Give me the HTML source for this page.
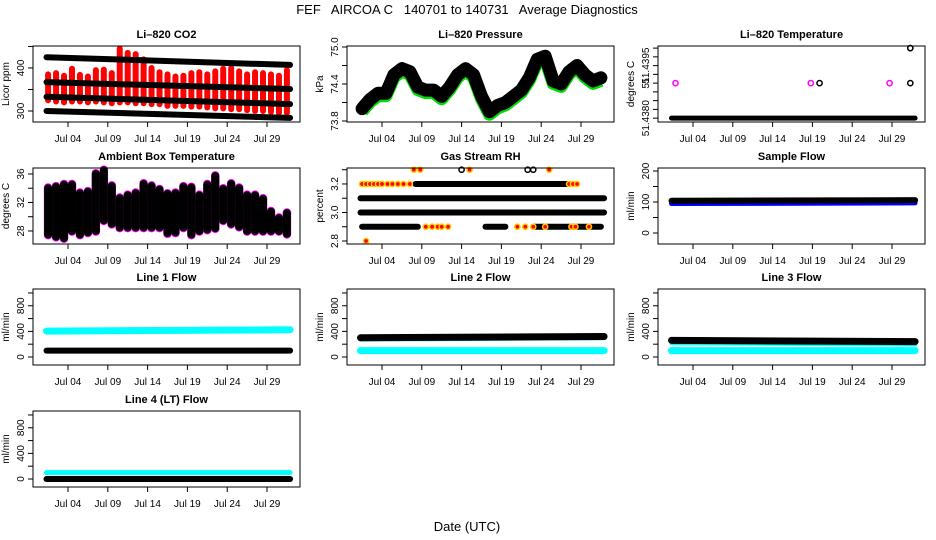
<!DOCTYPE html>
<html><head><meta charset="utf-8"><style>
body{margin:0;background:#fff;}
svg{display:block;font-family:"Liberation Sans",sans-serif;}
</style></head><body>
<svg id="chart" width="936" height="540" viewBox="0 0 936 540" xmlns="http://www.w3.org/2000/svg">
<rect width="936" height="540" fill="#fff"/>
<text x="467" y="14" text-anchor="middle" font-size="13" style="white-space:pre">FEF   AIRCOA C   140701 to 140731   Average Diagnostics</text>
<text x="467" y="531" text-anchor="middle" font-size="13">Date (UTC)</text>
</svg>
<script>
const xTickDays=[4,9,14,19,24,29];
const xTickLabels=["Jul 04","Jul 09","Jul 14","Jul 19","Jul 24","Jul 29"];
// CO2
const co2BandStart=[425,367,333,300];
const co2BandEnd=[407,351,316,284];
const co2Max=[385,388,382,398,384,380,395,396,388,445,435,432,420,400,390,385,380,382,388,390,385,392,398,400,392,385,390,388,385,382,395];
const co2Min=[325,322,320,322,322,320,322,320,318,320,320,318,318,316,316,312,312,312,310,310,308,306,306,304,304,302,300,300,298,296,296];
// Pressure
const pressure=[74.0,74.15,74.25,74.25,74.55,74.65,74.6,74.35,74.3,74.3,74.2,74.35,74.55,74.65,74.55,74.2,73.95,74.05,74.1,74.2,74.3,74.5,74.8,74.85,74.45,74.4,74.6,74.7,74.55,74.45,74.5];
// Li-820 temperature
const tempBase=51.4380;
const tempMagDays=[1.8,18.8,28.7,31.3];
const tempMagVals=[51.4390,51.4390,51.4390,51.4400];
const tempBlkDays=[19.9,31.3,31.3];
const tempBlkVals=[51.4390,51.4390,51.4400];
// Ambient
const ambMax=[34,34.2,34.5,34.5,33.3,33.5,36,36.5,34.3,32.6,33,33.3,34.6,34.3,33.8,33.2,33.3,34.2,34.1,33,34.5,35.7,33.9,34.6,34,33,33,32.5,30.7,29.8,30.5];
const ambMin=[27.5,27.2,27,28,27.5,27.8,28,29.5,29,28.5,28.5,28.5,28.5,28.5,28.5,27.7,27.8,28.5,27.5,28,28.2,28.4,29.5,29,28.6,28,28,28,28,28,27.6];
// RH
const rhSegLevel=[3.0,3.1,3.2,2.9,2.9,2.9];
const rhSegStart=[1.3,1.3,8.2,1.5,17,23];
const rhSegEnd=[31.9,31.9,27.3,8.5,19.5,31.5];
const rhPtDays=[1.5,2,2.5,3,3.5,4,4.7,5.3,6,6.7,7.5,27.5,28,28.5,8,8.8,15,25,9.5,10.3,11,11.5,12.3,21,22,23,24.5,27.8,28.3,30,2.0];
const rhPtVals=[3.2,3.2,3.2,3.2,3.2,3.2,3.2,3.2,3.2,3.2,3.2,3.2,3.2,3.2,3.3,3.3,3.3,3.3,2.9,2.9,2.9,2.9,2.9,2.9,2.9,2.9,2.9,2.9,2.9,2.9,2.8];
const rhBlkDays=[14,22.3,23];
const rhBlkVals=[3.3,3.3,3.3];
// Flows: [start value, end value]
const sampleBlue=[95,97];
const sampleBlack=[104,106];
const line1Cyan=[405,425];
const line1Black=[100,100];
const line2CyanLow=[100,100];
const line2CyanHigh=[280,300];
const line2Black=[300,320];
const line3CyanLow=[100,100];
const line3CyanHigh=[215,195];
const line3Black=[260,240];
const line4Cyan=[100,100];
const line4Black=[0,0];

const NS="http://www.w3.org/2000/svg";
const svg=document.getElementById('chart');
function mk(tag,attrs,parent){const e=document.createElementNS(NS,tag);for(const k in attrs)e.setAttribute(k,attrs[k]);(parent||svg).appendChild(e);return e;}
const W=267,H=76;
function panel(name,title,L,T,ymin,ymax,ticks,labels,ytitle){
  const g=mk('g',{});
  
  
  const P={g,L,T,x:d=>L+35+(d-4)*7.96,y:v=>T+H-(v-ymin)/(ymax-ymin)*H};
  const t=mk('text',{x:L+W/2,y:T-8,'text-anchor':'middle','font-size':11,'font-weight':'bold'},g);
  t.textContent=title;
  
  
  const yt=mk('text',{transform:`translate(${L-24},${T+H/2}) rotate(-90)`,'text-anchor':'middle','font-size':10},g);
  yt.textContent=ytitle;
  
  
  ticks.forEach((v,i)=>{
    const yy=P.y(v);
    mk('line',{x1:L-5,x2:L,y1:yy,y2:yy,stroke:'#000'},g);
    if(labels[i]){const tl=mk('text',{transform:`translate(${L-9},${yy}) rotate(-90)`,'text-anchor':'middle','font-size':10},g);tl.textContent=labels[i];
      
      }
  });
  xTickDays.forEach((d,i)=>{
    const xx=P.x(d);
    mk('line',{x1:xx,x2:xx,y1:T+H,y2:T+H+5,stroke:'#000'},g);
    const tl=mk('text',{x:xx,y:T+H+20,'text-anchor':'middle','font-size':10},g);
    tl.textContent=xTickLabels[i];
    
    
  });
  P.marks=mk('g',{},g);
  
  
  const b=mk('rect',{x:L,y:T,width:W,height:H,fill:'none',stroke:'#000'},g);
  
  
  return P;
}
function band(P,se,color,w){
  const l=mk('line',{x1:P.x(1.3),x2:P.x(31.9),y1:P.y(se[0]),y2:P.y(se[1]),stroke:color,'stroke-width':w,'stroke-linecap':'round'},P.marks);
  
  
}
function dayBars(P,mins,maxs,color,w,pad){
  mins.forEach((m,i)=>{const d=i+1.5;
    const l=mk('line',{x1:P.x(d),x2:P.x(d),y1:P.y(m-pad),y2:P.y(maxs[i]+pad),stroke:color,'stroke-width':w,'stroke-linecap':'round'},P.marks);
    
    });
}
function circ(P,d,v,color,fill){
  const c=mk('circle',{cx:P.x(d),cy:P.y(v),r:2.6,fill:fill||'none',stroke:color,'stroke-width':1.5},P.marks);
  
  
  return c;
}
const C=[33,347,658], R=[46,168,289,411];
// CO2
let P=panel('co2','Li\u2013820 CO2',C[0],R[0],274.4,451,[300,350,400,450],['300','','400',''],'Licor ppm');
dayBars(P,co2Min,co2Max,'#ff0000',6,0);
co2BandStart.forEach((s,i)=>band(P,[s,co2BandEnd[i]],'#000',6));
// Pressure
P=panel('pressure','Li\u2013820 Pressure',C[1],R[0],73.784,75.016,[73.8,74.1,74.4,74.7,75.0],['73.8','','74.4','','75.0'],'kPa');
const pts=v=>pressure.map((p,i)=>P.x(i+1.5)+','+P.y(p+v)).join(' ');
let pl=mk('polyline',{points:pts(-0.04),fill:'none',stroke:'#00dd00','stroke-width':13,'stroke-linejoin':'round'},P.marks);

pl=mk('polyline',{points:pts(0),fill:'none',stroke:'#000','stroke-width':13,'stroke-linejoin':'round','stroke-linecap':'round'},P.marks);

// Temperature
P=panel('li820-temp','Li\u2013820 Temperature',C[2],R[0],51.43789,51.44006,[51.4380,51.43825,51.4385,51.43875,51.4390,51.43925,51.4395,51.43975,51.4400],['51.4380','','','','51','','51.4395','',''],'degrees C');
band(P,[tempBase,tempBase],'#000',5);
tempMagDays.forEach((d,i)=>circ(P,d,tempMagVals[i],'#ff00ff'));
tempBlkDays.forEach((d,i)=>circ(P,d,tempBlkVals[i],'#000'));
// Ambient
P=panel('ambient','Ambient Box Temperature',C[0],R[1],26.17,36.84,[28,30,32,34,36],['28','','32','','36'],'degrees C');
dayBars(P,ambMin,ambMax,'#ff00ff',8.5,0.1);
dayBars(P,ambMin,ambMax,'#000',8,0);
// RH
P=panel('rh','Gas Stream RH',C[1],R[1],2.779,3.312,[2.8,2.9,3.0,3.1,3.2,3.3],['2.8','','3.0','','3.2',''],'percent');
rhSegLevel.forEach((lv,i)=>{const l=mk('line',{x1:P.x(rhSegStart[i]),x2:P.x(rhSegEnd[i]),y1:P.y(lv),y2:P.y(lv),stroke:'#000','stroke-width':6,'stroke-linecap':'round'},P.marks);
  });
rhPtDays.forEach((d,i)=>{circ(P,d,rhPtVals[i],'#ffcc00','#ff0000');});
rhBlkDays.forEach((d,i)=>circ(P,d,rhBlkVals[i],'#000'));
// Sample flow
P=panel('sample-flow','Sample Flow',C[2],R[1],-35.5,209.7,[0,50,100,150,200],['0','','100','','200'],'ml/min');
band(P,sampleBlue,'#0000ff',5);
band(P,sampleBlack,'#000',6);
// Line flows
const ft=[0,200,400,600,800,1000], fl=['0','','400','','800',''];
P=panel('line1-flow','Line 1 Flow',C[0],R[2],-125,1062,ft,fl,'ml/min');
band(P,line1Cyan,'#00ffff',7);band(P,line1Black,'#000',6);
P=panel('line2-flow','Line 2 Flow',C[1],R[2],-125,1062,ft,fl,'ml/min');
band(P,line2CyanLow,'#00ffff',7);band(P,line2CyanHigh,'#00ffff',5);band(P,line2Black,'#000',7);
P=panel('line3-flow','Line 3 Flow',C[2],R[2],-125,1062,ft,fl,'ml/min');
band(P,line3CyanLow,'#00ffff',7);band(P,line3CyanHigh,'#00ffff',4);band(P,line3Black,'#000',7);
P=panel('line4-flow','Line 4 (LT) Flow',C[0],R[3],-125,1062,ft,fl,'ml/min');
band(P,line4Cyan,'#00ffff',5);band(P,line4Black,'#000',6);
</script>
</body></html>
